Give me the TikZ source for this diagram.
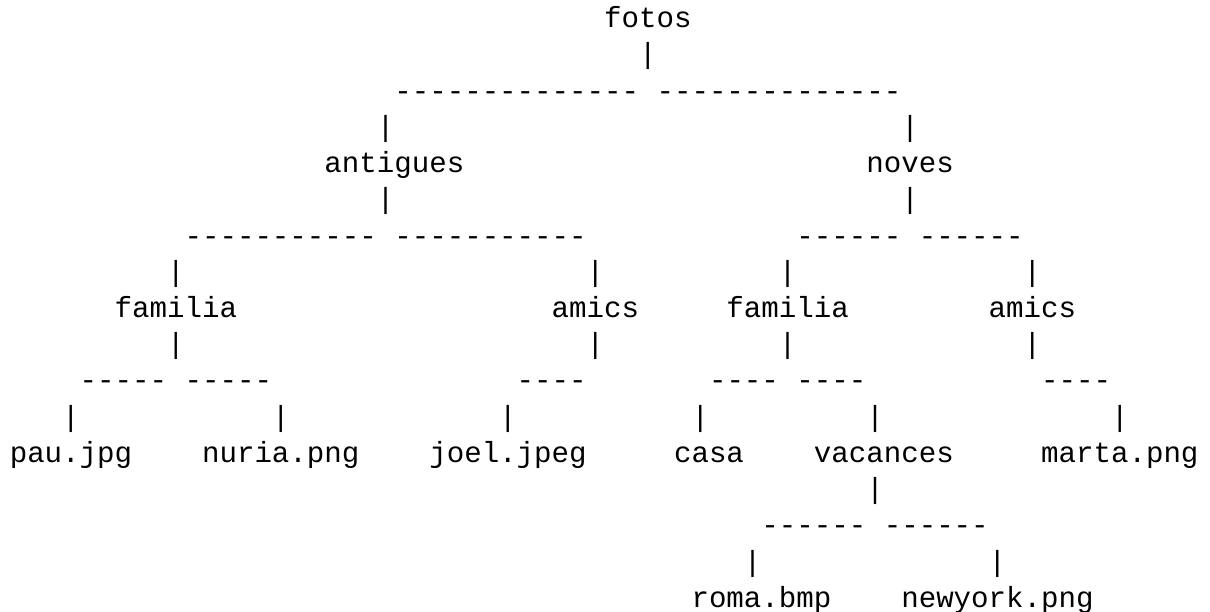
\documentclass[tikz,border=0pt]{standalone}
\usepackage{fontspec}
\setmonofont{Liberation Mono}

\begin{document}
\begin{tikzpicture}[x=8.742pt, y=18.125pt,
   txt_style/.style={anchor=base west, inner sep=0pt, outer sep=0pt,
      font=\ttfamily\fontsize{14.57pt}{18pt}\selectfont}]
	\useasboundingbox (0,0) rectangle (69.22,-16.883);

	% folders and files, one column = one character
	\node [txt_style] (fotos)    at (34.56,-0.76)  {fotos};
	\node [txt_style] (antigues) at (18.56,-4.76)  {antigues};
	\node [txt_style] (noves)    at (49.56,-4.76)  {noves};
	\node [txt_style] (famA)     at (6.56,-8.76)   {familia};
	\node [txt_style] (amicsA)   at (31.56,-8.76)  {amics};
	\node [txt_style] (famN)     at (41.56,-8.76)  {familia};
	\node [txt_style] (amicsN)   at (56.56,-8.76)  {amics};
	\node [txt_style] (pau)      at (0.56,-12.76)  {pau.jpg};
	\node [txt_style] (nuria)    at (11.56,-12.76) {nuria.png};
	\node [txt_style] (joel)     at (24.56,-12.76) {joel.jpeg};
	\node [txt_style] (casa)     at (38.56,-12.76) {casa};
	\node [txt_style] (vacances) at (46.56,-12.76) {vacances};
	\node [txt_style] (marta)    at (59.56,-12.76) {marta.png};
	\node [txt_style] (roma)     at (39.56,-16.76) {roma.bmp};
	\node [txt_style] (newyork)  at (51.56,-16.76) {newyork.png};

	% the branches, typed as characters
	\foreach \col/\row/\txt in {
		36/1/|,
		22/2/--------------, 37/2/--------------,
		21/3/|, 51/3/|,
		21/5/|, 51/5/|,
		10/6/-----------, 22/6/-----------, 45/6/------, 52/6/------,
		9/7/|, 33/7/|, 44/7/|, 58/7/|,
		9/9/|, 33/9/|, 44/9/|, 58/9/|,
		4/10/-----, 10/10/-----, 29/10/----, 40/10/----, 45/10/----, 59/10/----,
		3/11/|, 15/11/|, 28/11/|, 39/11/|, 49/11/|, 63/11/|,
		49/13/|,
		43/14/------, 50/14/------,
		42/15/|, 56/15/|
		}
	  \node [txt_style] at (\col+0.56,-\row-0.76) {\txt};

\end{tikzpicture}
\end{document}
